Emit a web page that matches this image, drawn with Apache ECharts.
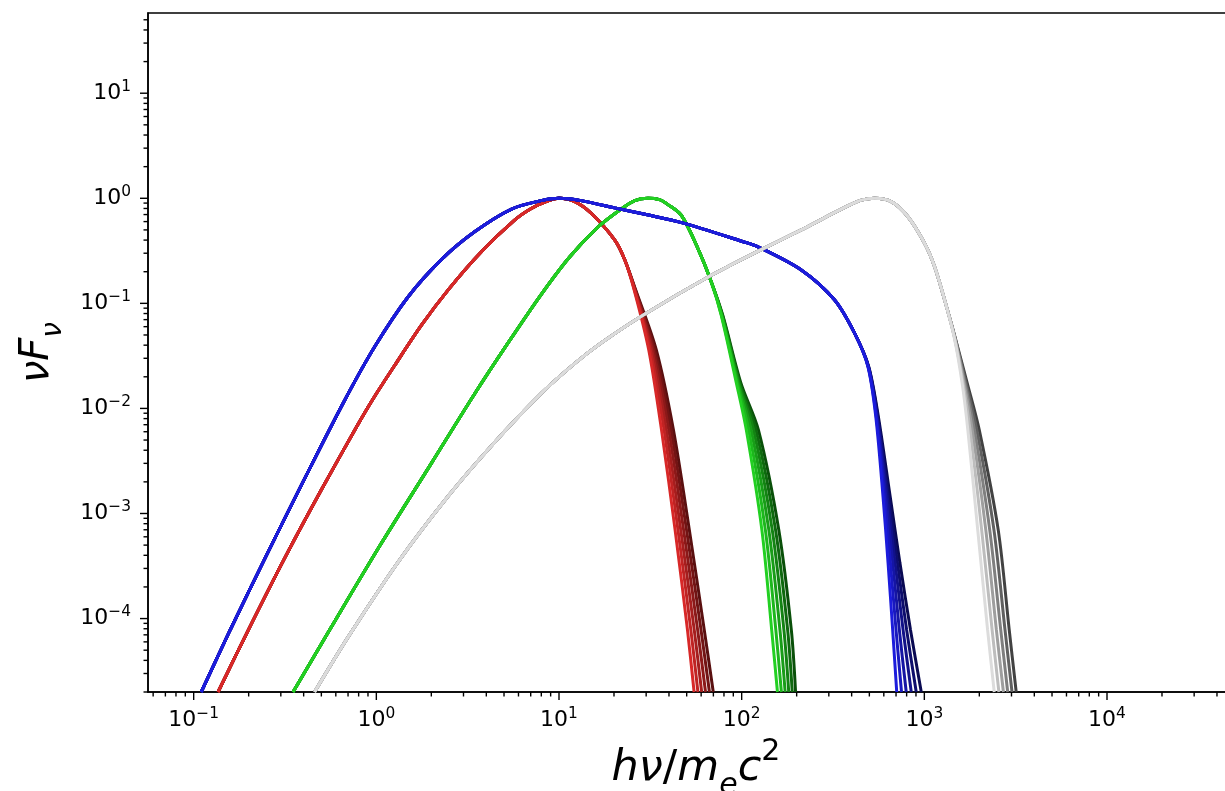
<!DOCTYPE html>
<html>
<head>
<meta charset="utf-8">
<script src="https://cdn.jsdelivr.net/npm/echarts@6/dist/echarts.min.js"></script>
<style>
  html, body { margin: 0; padding: 0; background: #ffffff; }
  #chart { width: 1225px; height: 791px; }
</style>
</head>
<body>
<div id="chart"></div>
<script>
// Axis ranges (log scales)
const xRange = [0.05623, 56234];
const yRange = [2e-5, 58];

// Tick positions
const xMajorTicks = [0.1, 1, 10, 100, 1000, 10000];
const yMajorTicks = [1e-4, 1e-3, 1e-2, 1e-1, 1, 10];
const minorSteps = [2, 3, 4, 5, 6, 7, 8, 9];
const xDecades = [0.01, 0.1, 1, 10, 100, 1000, 10000];
const yDecades = [1e-5, 1e-4, 1e-3, 1e-2, 1e-1, 1, 10];

// Red family: shared body, then one cutoff tail per curve
const redBody = [
  [0.136, 2.0e-5], [0.2, 7.9e-5], [0.316, 3.8e-4], [0.501, 1.69e-3],
  [0.794, 7.06e-3], [0.959, 0.0123], [1.259, 0.0256], [1.778, 0.063],
  [2.512, 0.139], [3.76, 0.31], [5.71, 0.62], [7.05, 0.80], [8.5, 0.93],
  [10.0, 1.0], [12.2, 0.93], [15.0, 0.72], [20.2, 0.40], [22.9, 0.26]
];
const redLevels = [0.134, 0.036, 6.25e-3, 6.98e-4, 7.8e-5, 2.0e-5];
const redTails = [
  [25.8, 31.0, 36.4, 43.2, 50.5, 54.9],
  [25.9, 31.6, 37.6, 44.8, 52.7, 57.6],
  [26.0, 32.2, 38.7, 46.4, 55.0, 60.4],
  [26.1, 32.8, 39.9, 48.1, 57.4, 63.4],
  [26.2, 33.4, 41.1, 49.9, 59.9, 66.6],
  [26.3, 34.1, 42.3, 51.7, 62.4, 69.9]
];
const redShades = ['#d82828', '#bf2323', '#a51e1e', '#8b1919', '#721414', '#5a1010'];

// Green family
const greenBody = [
  [0.35, 2.0e-5], [0.567, 8.3e-5], [1.065, 5.2e-4], [2.0, 3.0e-3],
  [3.38, 0.0130], [5.26, 0.042], [8.0, 0.122], [11.4, 0.275],
  [16.3, 0.53], [21.9, 0.79], [26.0, 0.95], [30.7, 1.0], [35.5, 0.97],
  [39.5, 0.87], [46.7, 0.69], [57.7, 0.33], [68.2, 0.16]
];
const greenLevels = [0.077, 0.0175, 6.25e-3, 6.98e-4, 7.8e-5, 2.0e-5];
const greenTails = [
  [77.3, 93.5, 106.0, 129.0, 146.0, 157.0],
  [77.6, 94.6, 109.3, 134.8, 153.8, 165.0],
  [77.9, 95.7, 112.7, 140.8, 162.0, 173.0],
  [78.2, 96.8, 116.2, 147.0, 170.3, 181.0],
  [78.5, 97.9, 119.8, 153.3, 178.5, 189.2],
  [78.8, 99.0, 123.5, 159.7, 187.0, 197.3]
];
const greenShades = ['#22d022', '#1db71d', '#189d18', '#138313', '#0e690e', '#0a500a'];

// Blue family
const blueBody = [
  [0.110, 2.0e-5], [0.158, 7.7e-5], [0.251, 4.04e-4], [0.398, 2.02e-3],
  [0.670, 0.0119], [0.979, 0.0386], [1.49, 0.115], [2.27, 0.261],
  [3.45, 0.48], [5.5, 0.79], [8.0, 0.95], [10.0, 1.0],
  [13.2, 0.95], [20.2, 0.81], [30.0, 0.70], [48.0, 0.58], [100, 0.39],
  [123, 0.345], [212, 0.208], [322, 0.108], [415, 0.052]
];
const blueLevels = [0.025, 8.4e-3, 1.45e-3, 3.39e-4, 7.8e-5, 2.0e-5];
const blueTails = [
  [491, 542, 594, 633, 671, 706],
  [492, 545.5, 605, 652, 700, 750],
  [493, 549, 616, 672, 730, 796],
  [494, 552.5, 627, 692, 765, 848],
  [495, 556, 638, 713, 800, 903],
  [496, 560, 650, 735, 840, 962]
];
const blueShades = ['#1c1cdc', '#1818c0', '#1515a4', '#111188', '#0d0d6c', '#0a0a52'];

// Grey family
const greyBody = [
  [0.459, 2.0e-5], [0.70, 6.65e-5], [1.315, 3.45e-4], [2.47, 1.46e-3],
  [4.26, 4.4e-3], [8.0, 0.0139], [12.2, 0.0268], [17.0, 0.0419],
  [29.4, 0.0787], [68.2, 0.185], [128, 0.325], [212, 0.50],
  [322, 0.73], [400, 0.88], [452, 0.96], [533, 1.0], [659, 0.929],
  [813, 0.668], [1003, 0.373], [1137, 0.224], [1291, 0.108]
];
const greyLevels = [0.0482, 0.0174, 6.25e-3, 6.98e-4, 7.8e-5, 2.0e-5];
const greyTails = [
  [1455, 1610, 1730, 1960, 2220, 2414],
  [1458, 1630, 1780, 2060, 2350, 2560],
  [1461, 1650, 1830, 2170, 2480, 2710],
  [1464, 1670, 1880, 2280, 2620, 2860],
  [1467, 1693, 1938, 2405, 2765, 3020],
  [1470, 1717, 1998, 2538, 2916, 3184]
];
const greyShades = ['#dcdcdc', '#bdbdbd', '#9e9e9e', '#7f7f7f', '#606060', '#424242'];

const FONT = 'DejaVu Sans';

function curve(body, levels, tail) {
  return body.concat(levels.map((y, i) => [tail[i], y]));
}

// darker (longer cutoff) curves first so the brightest sits on top
function familySeries(name, body, levels, tails, shades) {
  const out = [];
  for (let i = tails.length - 1; i >= 0; i--) {
    out.push({
      name: name + ' ' + (i + 1),
      type: 'line',
      data: curve(body, levels, tails[i]),
      showSymbol: false,
      smooth: 0.3,
      lineStyle: { color: shades[i], width: 3 },
      silent: true
    });
  }
  return out;
}

function inRange(v, r) { return v >= r[0] * 0.9999 && v <= r[1] * 1.0001; }

const xMinorTicks = [];
xDecades.forEach(d => minorSteps.forEach(m => { const v = m * d; if (inRange(v, xRange)) xMinorTicks.push(v); }));
const yMinorTicks = [];
yDecades.forEach(d => minorSteps.forEach(m => { const v = m * d; if (inRange(v, yRange)) yMinorTicks.push(v); }));

function tickSeries(values, horizontal, len) {
  return {
    type: 'custom',
    silent: true,
    clip: false,
    z: 10,
    data: values.map(v => horizontal ? [v, yRange[0]] : [xRange[0], v]),
    renderItem: function (params, api) {
      const p = api.coord([api.value(0), api.value(1)]);
      const shape = horizontal
        ? { x1: p[0], y1: p[1], x2: p[0], y2: p[1] + len }
        : { x1: p[0], y1: p[1], x2: p[0] - len, y2: p[1] };
      return { type: 'line', shape: shape, style: { stroke: '#000', lineWidth: 1.4 } };
    }
  };
}

function powerLabel(v) {
  const lg = Math.log10(v);
  const e = Math.round(lg);
  if (Math.abs(lg - e) > 1e-6) return '';
  return '{b|10}{s|' + (e < 0 ? '\u2212' + (-e) : String(e)) + '}';
}

const tickRich = {
  b: { fontFamily: FONT, fontSize: 22, color: '#000', lineHeight: 28 },
  s: { fontFamily: FONT, fontSize: 15.4, color: '#000', lineHeight: 16, verticalAlign: 'top' }
};

const series = []
  .concat(familySeries('red', redBody, redLevels, redTails, redShades))
  .concat(familySeries('green', greenBody, greenLevels, greenTails, greenShades))
  .concat(familySeries('blue', blueBody, blueLevels, blueTails, blueShades))
  .concat(familySeries('grey', greyBody, greyLevels, greyTails, greyShades))
  .concat([
    tickSeries(xMajorTicks, true, 8),
    tickSeries(xMinorTicks, true, 4.5),
    tickSeries(yMajorTicks, false, 8),
    tickSeries(yMinorTicks, false, 4.5)
  ]);

const chart = echarts.init(document.getElementById('chart'), null, { renderer: 'canvas' });
chart.setOption({
  animation: false,
  backgroundColor: '#ffffff',
  grid: {
    left: 148, top: 13, width: 1096, height: 679,
    outerBoundsMode: 'none',
    containLabel: false,
    show: true, borderColor: '#000', borderWidth: 1.5, backgroundColor: 'transparent'
  },
  xAxis: {
    type: 'log', logBase: 10, min: xRange[0], max: xRange[1],
    axisLine: { show: true, lineStyle: { color: '#000', width: 1.5 } },
    axisTick: { show: false },
    splitLine: { show: false },
    axisLabel: { margin: 14, formatter: powerLabel, rich: tickRich, showMinLabel: false, showMaxLabel: false, hideOverlap: false },
    name: '{i|h\u03bd}{u|/}{i|m}{sub|e}{i|c}{sup|2}',
    nameLocation: 'middle',
    nameGap: 45,
    nameTextStyle: {
      rich: {
        i: { fontFamily: FONT, fontSize: 43, fontStyle: 'italic', color: '#000', lineHeight: 64 },
        u: { fontFamily: FONT, fontSize: 43, color: '#000', lineHeight: 64 },
        sub: { fontFamily: FONT, fontSize: 30, fontStyle: 'italic', color: '#000', lineHeight: 34, verticalAlign: 'bottom' },
        sup: { fontFamily: FONT, fontSize: 30, color: '#000', lineHeight: 48, verticalAlign: 'top' }
      }
    }
  },
  yAxis: {
    type: 'log', logBase: 10, min: yRange[0], max: yRange[1],
    axisLine: { show: true, lineStyle: { color: '#000', width: 1.5 } },
    axisTick: { show: false },
    splitLine: { show: false },
    axisLabel: { margin: 17, formatter: powerLabel, rich: tickRich, showMinLabel: false, showMaxLabel: false, hideOverlap: false },
    name: '{i|\u03bdF}{sub|\u03bd}',
    nameLocation: 'middle',
    nameGap: 80,
    nameTextStyle: {
      rich: {
        i: { fontFamily: FONT, fontSize: 40, fontStyle: 'italic', color: '#000', lineHeight: 60 },
        sub: { fontFamily: FONT, fontSize: 28, fontStyle: 'italic', color: '#000', lineHeight: 32, verticalAlign: 'bottom' }
      }
    }
  },
  series: series
});
</script>
</body>
</html>
